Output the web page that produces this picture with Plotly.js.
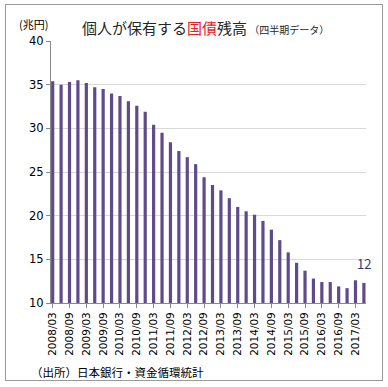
<!DOCTYPE html>
<html>
<head>
<meta charset="utf-8">
<script src="https://cdn.plot.ly/plotly-3.0.1.min.js"></script>
<style>
  html, body { margin: 0; padding: 0; background: #fff; }
  #chart { width: 388px; height: 387px; position: absolute; left: 0; top: 0; }
  #frame { position: absolute; left: 5px; top: 4px; width: 376px; height: 375px; border: 1.5px solid #9a9a9a; pointer-events: none; }
</style>
</head>
<body>
<div id="chart"></div>
<div id="frame"></div>
<script>
const quarters = [
  '2008/03','2008/06','2008/09','2008/12',
  '2009/03','2009/06','2009/09','2009/12',
  '2010/03','2010/06','2010/09','2010/12',
  '2011/03','2011/06','2011/09','2011/12',
  '2012/03','2012/06','2012/09','2012/12',
  '2013/03','2013/06','2013/09','2013/12',
  '2014/03','2014/06','2014/09','2014/12',
  '2015/03','2015/06','2015/09','2015/12',
  '2016/03','2016/06','2016/09','2016/12',
  '2017/03','2017/06'
];
const holdings = [
  35.4, 35.0, 35.3, 35.5, 35.2, 34.7, 34.5, 34.0,
  33.7, 33.1, 32.6, 31.9, 30.4, 29.5, 28.4, 27.4,
  26.7, 25.9, 24.4, 23.5, 22.9, 22.0, 21.0, 20.5,
  20.1, 19.4, 18.4, 17.2, 15.8, 14.6, 13.7, 12.8,
  12.4, 12.4, 11.9, 11.7, 12.6, 12.3
];
const tickLabels = quarters.filter((q, i) => i % 2 === 0);
const lastIdx = holdings.length - 1;

const jp = '"Noto Sans CJK JP", "Noto Sans", sans-serif';

const trace = {
  type: 'bar',
  x: quarters,
  y: holdings,
  width: 0.38,
  marker: { color: '#5f4a8b', line: { width: 0 } },
  hoverinfo: 'x+y'
};

const layout = {
  width: 388, height: 387,
  margin: { l: 51, r: 22, t: 41, b: 84 },
  paper_bgcolor: '#fff', plot_bgcolor: '#fff',
  showlegend: false,
  bargap: 0.6,
  font: { family: jp, color: '#000' },
  title: {
    text: '個人が保有する<span style="color:#e8202a">国債</span>残高<span style="font-size:10px"> （四半期データ）</span>',
    font: { family: jp, size: 15, color: '#262626' },
    x: 0.53, xanchor: 'center', y: 0.925, yanchor: 'middle'
  },
  xaxis: {
    type: 'category',
    range: [-0.2, 37.25],
    tickmode: 'array',
    tickvals: tickLabels,
    ticktext: tickLabels,
    tickangle: -90,
    ticks: 'outside', ticklen: 4, tickcolor: '#888',
    tickfont: { family: '"DejaVu Sans", sans-serif', size: 10.5, color: '#000' },
    showline: true, linecolor: '#888', linewidth: 1,
    showgrid: false, zeroline: false
  },
  yaxis: {
    range: [10, 40],
    dtick: 5,
    tick0: 10,
    ticks: 'outside', ticklen: 4, tickcolor: '#888',
    tickfont: { family: '"DejaVu Sans", sans-serif', size: 11.5, color: '#000' },
    showline: true, linecolor: '#888', linewidth: 1,
    showgrid: true, gridcolor: '#d9d9d9', gridwidth: 1,
    zeroline: false
  },
  annotations: [
    { text: String(Math.round(holdings[lastIdx])), x: quarters[lastIdx], y: holdings[lastIdx],
      xref: 'x', yref: 'y', xanchor: 'center', yanchor: 'bottom', yshift: 8,
      showarrow: false, font: { family: jp, size: 13, color: '#1f3d7a' } },
    { text: '(兆円)', xref: 'paper', yref: 'paper', x: -0.054, y: 1.065, xanchor: 'center', yanchor: 'middle',
      showarrow: false, font: { family: jp, size: 11, color: '#000' } },
    { text: '（出所）日本銀行・資金循環統計', xref: 'paper', yref: 'paper', x: -0.07, y: -0.265, xanchor: 'left', yanchor: 'middle',
      showarrow: false, font: { family: jp, size: 11.5, color: '#000' } }
  ]
};

Plotly.newPlot('chart', [trace], layout, { displayModeBar: false, staticPlot: true });
</script>
</body>
</html>
